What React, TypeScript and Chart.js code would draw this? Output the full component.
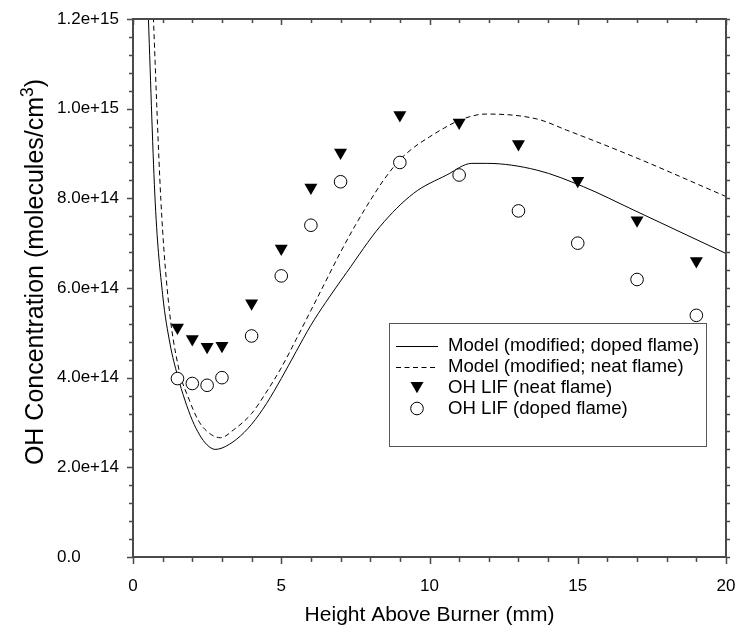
import React, { useEffect, useRef } from 'react';
import { Chart, registerables } from 'chart.js';

Chart.register(...registerables);

// ---------- data ----------
const measuredHeights = [1.5, 2, 2.5, 3, 4, 5, 6, 7, 9, 11, 13, 15, 17, 19];
const lifNeat = [5.12e14, 4.86e14, 4.69e14, 4.71e14, 5.66e14, 6.88e14, 8.24e14, 9.02e14, 9.86e14, 9.69e14, 9.21e14, 8.39e14, 7.51e14, 6.6e14];
const lifDoped = [3.98e14, 3.87e14, 3.83e14, 4.0e14, 4.93e14, 6.27e14, 7.4e14, 8.37e14, 8.8e14, 8.52e14, 7.72e14, 7.0e14, 6.19e14, 5.39e14];

const modelDopedX = [0.4, 0.52, 0.75, 1.0, 1.25, 1.5, 1.75, 2.0, 2.25, 2.5, 2.77, 3.0, 3.5, 4.0, 4.5, 5.0, 5.5, 6.0, 6.5, 7.21, 8.33, 9.46, 10.58, 11.43, 11.93, 13.62, 15.19, 16.88, 20];
const modelDopedY = [14.3e14, 12.0e14, 7.9e14, 5.85e14, 4.75e14, 4.05e14, 3.5e14, 3.05e14, 2.72e14, 2.5e14, 2.4e14, 2.43e14, 2.63e14, 2.96e14, 3.42e14, 3.98e14, 4.58e14, 5.17e14, 5.68e14, 6.35e14, 7.37e14, 8.11e14, 8.52e14, 8.78e14, 8.78e14, 8.63e14, 8.26e14, 7.74e14, 6.77e14];

const modelNeatX = [0.55, 0.69, 0.94, 1.19, 1.53, 1.9, 2.2, 2.5, 2.95, 3.4, 4.0, 4.5, 5.0, 5.5, 6.0, 6.5, 7.0, 7.5, 8.0, 8.5, 9.0, 9.5, 10.0, 10.5, 11.0, 11.6, 11.93, 13.62, 14.63, 16.88, 20];
const modelNeatY = [14.5e14, 12.0e14, 7.96e14, 5.73e14, 4.24e14, 3.5e14, 3.05e14, 2.8e14, 2.66e14, 2.84e14, 3.2e14, 3.68e14, 4.22e14, 4.85e14, 5.5e14, 6.15e14, 6.8e14, 7.4e14, 7.95e14, 8.45e14, 8.86e14, 9.15e14, 9.37e14, 9.57e14, 9.74e14, 9.86e14, 9.88e14, 9.77e14, 9.52e14, 8.93e14, 8.04e14];

const legendLabels = [
  'Model (modified; doped flame)',
  'Model (modified; neat flame)',
  'OH LIF (neat flame)',
  'OH LIF (doped flame)',
];
const xTitle = 'Height Above Burner (mm)';
const yTitleMain = 'OH Concentration (molecules/cm';
const yTitleSup = '3';
const yTitleEnd = ')';

const X_MIN = 0, X_MAX = 20, X_MAJOR = 5, X_MINOR = 1;
const Y_MIN = 0, Y_MAX = 1.2e15, Y_MAJOR = 2e14, Y_MINOR = 4e13;

const FONT = "'Liberation Sans', Arial, Helvetica, sans-serif";
const AXIS_COLOR = '#4a4a4a';

const toPts = (xs: number[], ys: number[]) => xs.map((x, i) => ({ x, y: ys[i] }));

const decorPlugin = {
  id: 'decor',
  afterDraw(chart: any) {
    const { ctx, chartArea: a, scales } = chart;
    const xs = scales.x;
    const ys = scales.y;
    ctx.save();
    // frame
    ctx.strokeStyle = AXIS_COLOR;
    ctx.lineWidth = 2;
    ctx.strokeRect(a.left, a.top, a.right - a.left, a.bottom - a.top);
    // ticks
    ctx.lineWidth = 1.5;
    ctx.beginPath();
    const nx = Math.round((X_MAX - X_MIN) / X_MINOR);
    for (let i = 0; i <= nx; i++) {
      const v = X_MIN + i * X_MINOR;
      const px = Math.round(xs.getPixelForValue(v)) + 0.5;
      const major = Math.abs(v / X_MAJOR - Math.round(v / X_MAJOR)) < 1e-6;
      const len = major ? 7 : 5;
      ctx.moveTo(px, a.bottom); ctx.lineTo(px, a.bottom + len);
      ctx.moveTo(px, a.top); ctx.lineTo(px, a.top + len - 1);
    }
    const ny = Math.round((Y_MAX - Y_MIN) / Y_MINOR);
    for (let i = 0; i <= ny; i++) {
      const v = Y_MIN + i * Y_MINOR;
      const py = Math.round(ys.getPixelForValue(v)) + 0.5;
      const major = Math.abs(v / Y_MAJOR - Math.round(v / Y_MAJOR)) < 1e-6;
      const len = major ? 6 : 4;
      ctx.moveTo(a.left, py); ctx.lineTo(a.left - len, py);
      ctx.moveTo(a.right, py); ctx.lineTo(a.right + 4, py);
    }
    ctx.stroke();

    // x title
    ctx.fillStyle = '#000';
    ctx.font = `21px ${FONT}`;
    ctx.textAlign = 'center';
    ctx.textBaseline = 'alphabetic';
    ctx.fillText(xTitle, (a.left + a.right) / 2, 621);

    // y title (rotated, with superscript)
    const mainSize = 25;
    const supSize = 17.5;
    ctx.font = `${mainSize}px ${FONT}`;
    const wMain = ctx.measureText(yTitleMain).width;
    const wEnd = ctx.measureText(yTitleEnd).width;
    ctx.font = `${supSize}px ${FONT}`;
    const wSup = ctx.measureText(yTitleSup).width;
    const total = wMain + wSup + wEnd;
    ctx.save();
    ctx.translate(43, 272);
    ctx.rotate(-Math.PI / 2);
    ctx.textAlign = 'left';
    let cx = -total / 2;
    ctx.font = `${mainSize}px ${FONT}`;
    ctx.fillText(yTitleMain, cx, 0);
    cx += wMain;
    ctx.font = `${supSize}px ${FONT}`;
    ctx.fillText(yTitleSup, cx, -10);
    cx += wSup;
    ctx.font = `${mainSize}px ${FONT}`;
    ctx.fillText(yTitleEnd, cx, 0);
    ctx.restore();

    // legend
    const bx = 389, by = 323, bw = 317, bh = 123;
    ctx.fillStyle = '#fff';
    ctx.fillRect(bx, by, bw, bh);
    ctx.strokeStyle = '#555';
    ctx.lineWidth = 1;
    ctx.strokeRect(bx + 0.5, by + 0.5, bw, bh);
    const rows = [346, 366.5, 387.5, 408.5];
    const sx0 = 396, sx1 = 438, mx = 417, tx = 448;
    ctx.font = `18.6px ${FONT}`;
    ctx.textAlign = 'left';
    ctx.textBaseline = 'middle';
    rows.forEach((ry, i) => {
      ctx.strokeStyle = '#000';
      ctx.fillStyle = '#000';
      if (i === 0 || i === 1) {
        ctx.beginPath();
        ctx.lineWidth = 1;
        ctx.setLineDash(i === 1 ? [5, 3.5] : []);
        ctx.moveTo(sx0, Math.round(ry) + 0.5);
        ctx.lineTo(sx1, Math.round(ry) + 0.5);
        ctx.stroke();
        ctx.setLineDash([]);
      } else if (i === 2) {
        const r = 7.5;
        ctx.beginPath();
        ctx.moveTo(mx, ry + r * 0.75);
        ctx.lineTo(mx - r * 0.866, ry - r * 0.75);
        ctx.lineTo(mx + r * 0.866, ry - r * 0.75);
        ctx.closePath();
        ctx.fill();
      } else {
        ctx.beginPath();
        ctx.lineWidth = 1;
        ctx.arc(mx, ry, 6.3, 0, Math.PI * 2);
        ctx.fillStyle = '#fff';
        ctx.fill();
        ctx.stroke();
      }
      ctx.fillStyle = '#000';
      ctx.fillText(legendLabels[i], tx, ry);
    });
    ctx.restore();
  },
};

export default function App() {
  const ref = useRef<HTMLCanvasElement | null>(null);

  useEffect(() => {
    if (!ref.current) return;
    Chart.defaults.font.family = FONT;
    const chart = new Chart(ref.current, {
      type: 'scatter',
      data: {
        datasets: [
          {
            label: legendLabels[3],
            data: toPts(measuredHeights, lifDoped),
            pointStyle: 'circle',
            pointRadius: 6.3,
            pointBackgroundColor: '#fff',
            pointBorderColor: '#000',
            pointBorderWidth: 1,
            showLine: false,
            order: 0,
          },
          {
            label: legendLabels[2],
            data: toPts(measuredHeights, lifNeat),
            pointStyle: 'triangle',
            rotation: 180,
            pointRadius: 7.5,
            pointBackgroundColor: '#000',
            pointBorderColor: '#000',
            pointBorderWidth: 0,
            showLine: false,
            order: 1,
          },
          {
            label: legendLabels[0],
            data: toPts(modelDopedX, modelDopedY),
            showLine: true,
            borderColor: '#000',
            borderWidth: 1,
            pointRadius: 0,
            cubicInterpolationMode: 'monotone',
            order: 2,
          },
          {
            label: legendLabels[1],
            data: toPts(modelNeatX, modelNeatY),
            showLine: true,
            borderColor: '#000',
            borderWidth: 1,
            borderDash: [5, 3.5],
            pointRadius: 0,
            cubicInterpolationMode: 'monotone',
            order: 3,
          },
        ],
      },
      options: {
        animation: false,
        responsive: false,
        maintainAspectRatio: false,
        events: [],
        layout: { padding: { left: 57, top: 19, right: 12, bottom: 0 } },
        plugins: {
          legend: { display: false },
          tooltip: { enabled: false },
          title: { display: false },
        },
        scales: {
          x: {
            type: 'linear',
            min: X_MIN,
            max: X_MAX,
            grid: { display: false, drawTicks: false },
            border: { display: false },
            ticks: {
              stepSize: X_MAJOR,
              color: '#000',
              font: { size: 17 },
              padding: 19,
              maxRotation: 0,
              callback: (v: any) => String(v),
            },
            afterFit: (s: any) => { s.height = 80; s.paddingLeft = 0; s.paddingRight = 0; },
          },
          y: {
            type: 'linear',
            min: Y_MIN,
            max: Y_MAX,
            grid: { display: false, drawTicks: false },
            border: { display: false },
            ticks: {
              stepSize: Y_MAJOR,
              color: '#000',
              font: { size: 17 },
              crossAlign: 'far',
              autoSkip: false,
              callback: (v: any) => (Number(v) === 0 ? '0.0' : Number(v).toExponential(1)),
            },
            afterFit: (s: any) => { s.width = 76; s.paddingTop = 0; s.paddingBottom = 0; },
          },
        },
      },
      plugins: [decorPlugin],
    } as any);
    return () => chart.destroy();
  }, []);

  return (
    <div style={{ position: 'fixed', left: 0, top: 0, width: 738, height: 637, background: '#fff' }}>
      <canvas ref={ref} width={738} height={637} style={{ width: 738, height: 637, display: 'block' }} />
    </div>
  );
}
